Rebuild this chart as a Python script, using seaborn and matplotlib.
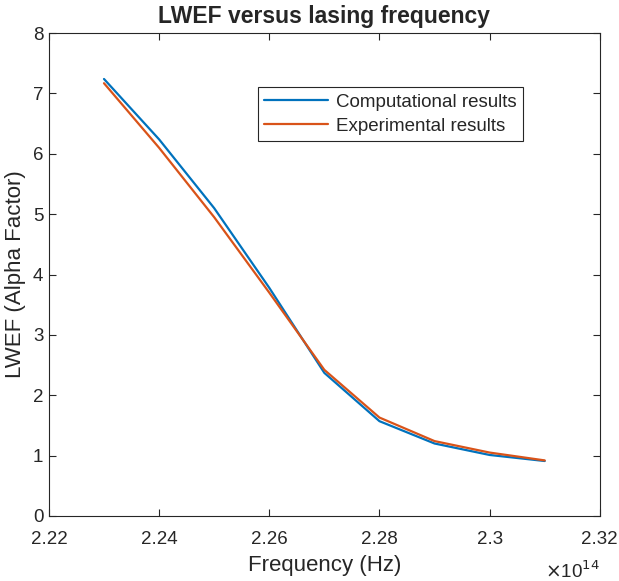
import numpy as np
import pandas as pd
import seaborn as sns
import matplotlib.pyplot as plt
from matplotlib.ticker import FuncFormatter

# data
freq = [2.23e14, 2.24e14, 2.25e14, 2.26e14, 2.27e14, 2.28e14, 2.29e14, 2.30e14, 2.31e14]
computational = [7.24, 6.24, 5.10, 3.78, 2.37, 1.57, 1.20, 1.01, 0.91]
experimental = [7.17, 6.10, 4.95, 3.70, 2.42, 1.63, 1.24, 1.05, 0.92]
series_names = ['Computational results', 'Experimental results']

df = pd.DataFrame({
    'freq': freq * 2,
    'lwef': computational + experimental,
    'series': [series_names[0]] * len(freq) + [series_names[1]] * len(freq),
})

sns.set_style('white')
plt.rcParams['font.family'] = ['Liberation Sans', 'DejaVu Sans']

fig = plt.figure(figsize=(6.19, 5.81), dpi=100)
ax = fig.add_axes([0.079, 0.112, 0.890, 0.831])

sns.lineplot(data=df, x='freq', y='lwef', hue='series',
             palette=['#0072BD', '#D95319'], linewidth=1.6, ax=ax)

ax.set_xlim(2.22e14, 2.32e14)
ax.set_ylim(0, 8)
ax.set_xticks([2.22e14, 2.24e14, 2.26e14, 2.28e14, 2.30e14, 2.32e14])
ax.set_yticks(range(0, 9))
ax.xaxis.set_major_formatter(FuncFormatter(lambda v, p: '%g' % round(v / 1e14, 2)))
ax.tick_params(direction='in', length=5, width=0.8, colors='#262626',
               labelsize=13.5, top=True, right=True, bottom=True, left=True)
ax.tick_params(axis='x', pad=11)
ax.tick_params(axis='y', pad=4)
for s in ax.spines.values():
    s.set_color('#262626')
    s.set_linewidth(0.8)

ax.set_title('LWEF versus lasing frequency', fontsize=16.5, fontweight='bold', pad=7)
ax.set_xlabel('Frequency (Hz)', fontsize=16, labelpad=5)
ax.set_ylabel('LWEF (Alpha Factor)', fontsize=16, labelpad=5)
ax.text(1.0, -0.093, r'$\times$10$^{14}$', transform=ax.transAxes,
        ha='right', va='top', fontsize=13.5, color='#262626')

leg = ax.legend(loc='upper left', bbox_to_anchor=(0.379, 0.888), fontsize=13.5,
                frameon=True, fancybox=False, framealpha=1, edgecolor='#262626',
                borderaxespad=0, handlelength=3.4, borderpad=0.35,
                labelspacing=0.35, handletextpad=0.4)
leg.get_frame().set_linewidth(0.8)

fig.savefig('out.png', dpi=100)
plt.close(fig)
